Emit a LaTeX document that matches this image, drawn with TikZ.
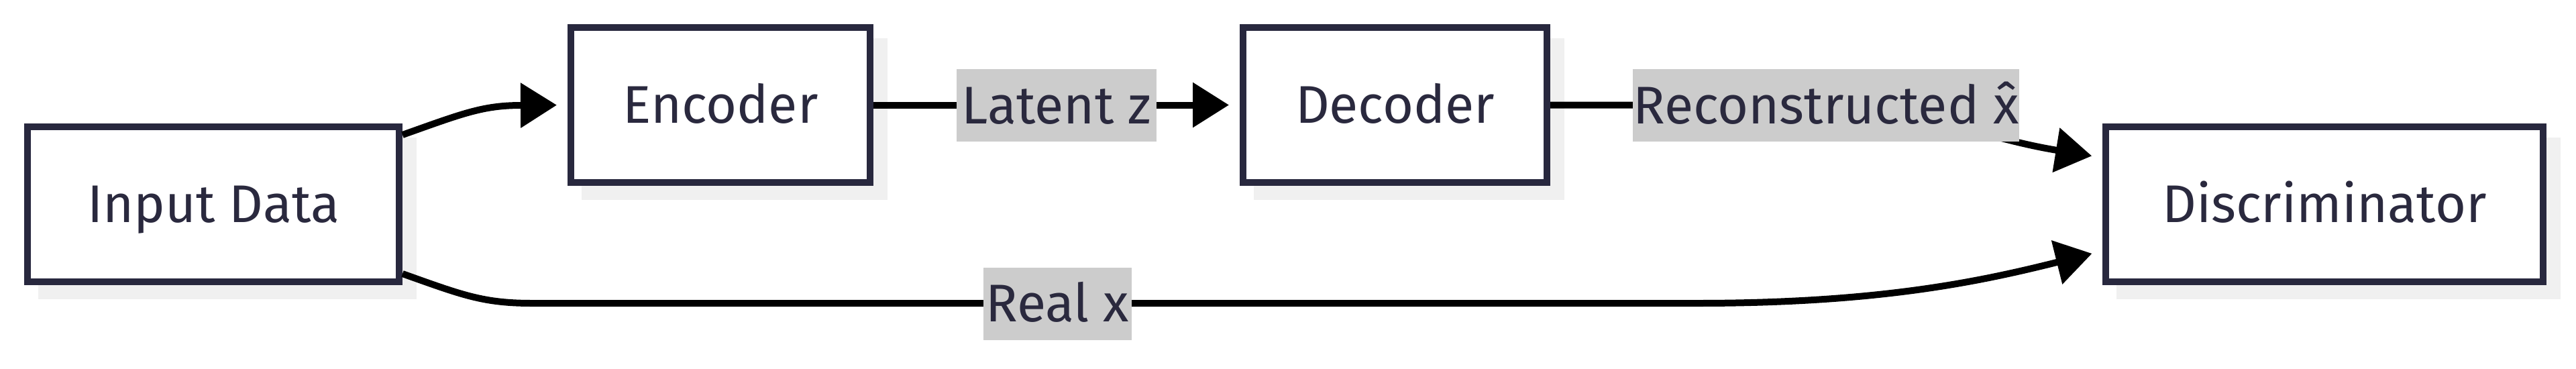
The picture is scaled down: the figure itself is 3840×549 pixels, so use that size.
\documentclass[tikz,border=0pt]{standalone}
\usepackage{fontspec}
\setmainfont{Fira Sans}
\usetikzlibrary{arrows.meta,backgrounds}
\definecolor{ink}{HTML}{2A293E}
\definecolor{edgec}{HTML}{28283E}
\definecolor{shadowc}{HTML}{F0F0F0}
\definecolor{lblbg}{HTML}{CCCCCC}
\tikzset{
  txt/.style={text=ink, font=\fontsize{15.8pt}{19pt}\selectfont, text height=10.9pt, text depth=0pt},
  box/.style={txt, draw=edgec, line width=2pt, fill=white, minimum height=46.2pt, inner sep=0pt},
  lbl/.style={txt, fill=lblbg, inner sep=0pt, minimum height=21.6pt},
  conn/.style={draw=black, line width=2pt, -{Triangle[length=10.8pt,width=13pt]}, shorten >=3.2pt},
  shadowbox/.style={fill=shadowc}
}
\begin{document}
\begin{tikzpicture}[x=0.2pt, y=-0.2pt]
\useasboundingbox (0,0) rectangle (3840,549);
% nodes
\node[box, minimum width=110.8pt] (in) at (318,304.5) {Input Data};
\node[box, minimum width=89.2pt] (enc) at (1074,156.5) {Encoder};
\node[box, minimum width=90.6pt] (dec) at (2079.5,156.5) {Decoder};
\node[box, minimum width=130.4pt] (disc) at (3465,304.5) {Discriminator};
% shadows
\begin{scope}[on background layer]
  \foreach \n in {in,enc,dec,disc}
    \fill[shadowbox] ([shift={(21,21)}]\n.north west) rectangle ([shift={(21,21)}]\n.south east);
\end{scope}
% connectors
\draw[conn] ([yshift=20.7pt]in.east) .. controls (690,169) and (720,157) .. (777,157) -- (enc.west);
\draw[conn] (enc.east) -- (dec.west);
\draw[conn] (dec.east) -- (2722,157) .. controls (2850,157) and (2950,205) .. ([yshift=13.9pt]disc.west);
\draw[conn] ([yshift=-20.7pt]in.east) .. controls (690,440) and (720,452) .. (794,452) -- (2529,452) .. controls (2800,452) and (2950,420) .. ([yshift=-13.9pt]disc.west);
% edge labels
\node[lbl, minimum width=59.6pt] (lz) at (1575,157) {Latent z};
\node[lbl, minimum width=115.2pt] (lr) at (2722,157) {Reconstructed \^{x}};
\node[lbl, minimum width=44.2pt] (lx) at (1576.5,452.5) {Real x};
\end{tikzpicture}
\end{document}
